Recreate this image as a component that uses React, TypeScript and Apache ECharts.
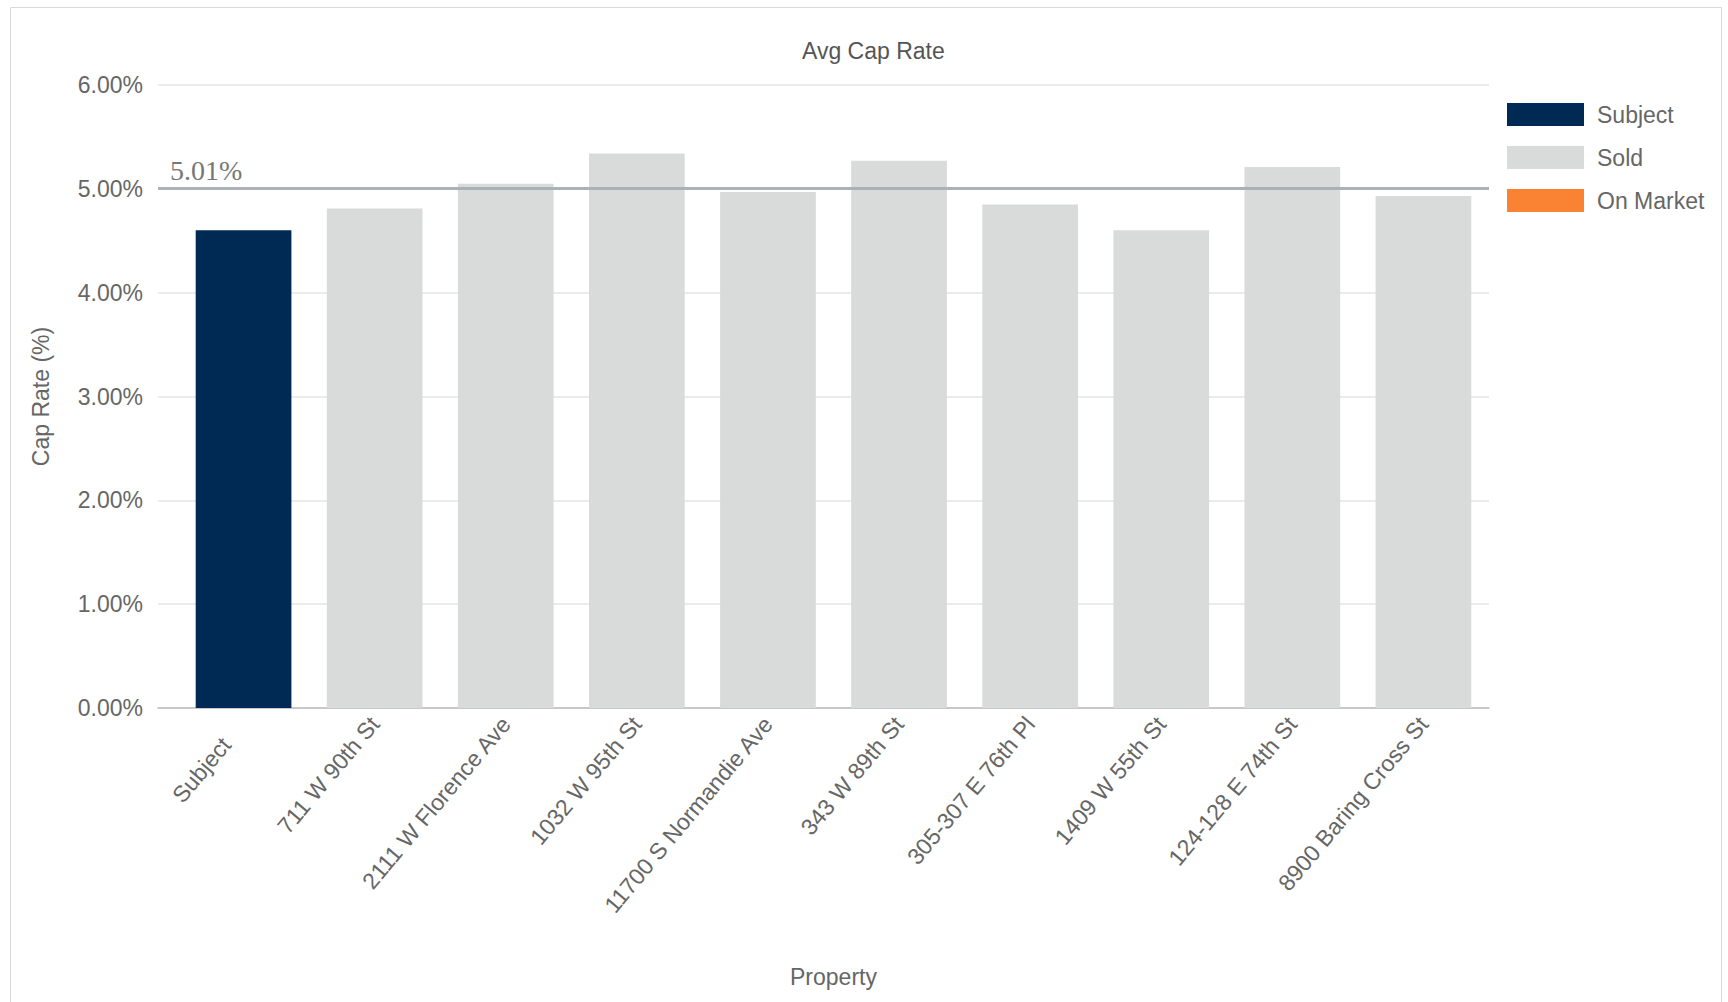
import React, { useEffect, useRef } from "react";
import * as echarts from "echarts";

// Properties along the category axis
const categories = [
  "Subject",
  "711 W 90th St",
  "2111 W Florence Ave",
  "1032 W 95th St",
  "11700 S Normandie Ave",
  "343 W 89th St",
  "305-307 E 76th Pl",
  "1409 W 55th St",
  "124-128 E 74th St",
  "8900 Baring Cross St",
];

// Cap rate (%) per property
const capRates = [4.6, 4.81, 5.05, 5.34, 4.97, 5.27, 4.85, 4.6, 5.21, 4.93];

// Status of each property (drives the colour / legend group)
const statuses = [
  "Subject",
  "Sold",
  "Sold",
  "Sold",
  "Sold",
  "Sold",
  "Sold",
  "Sold",
  "Sold",
  "Sold",
];

const statusNames = ["Subject", "Sold", "On Market"];
const statusColors = ["#002a54", "#d9dada", "#f98233"];

// Average cap rate reference line
const avgCapRate = 5.01;

// Y axis range (%)
const yMin = 0;
const yMax = 6;
const yStep = 1;

const FONT = "'Liberation Sans', Arial, sans-serif";
const TEXT = "#666666";
const FS = 23;

export default function App() {
  const ref = useRef<HTMLDivElement>(null);

  useEffect(() => {
    if (!ref.current) return;
    const chart = echarts.init(ref.current, undefined, { renderer: "svg" });

    const statusSeries = statusNames.map((name, si) => ({
      name,
      type: "bar" as const,
      xAxisIndex: 1,
      yAxisIndex: 1,
      stack: "status",
      barCategoryGap: "27%",
      itemStyle: { color: statusColors[si] },
      data: capRates.map((v, i) => (statuses[i] === name ? v : null)),
      z: 2,
    }));

    // The subject's own label sits a little further from its tick
    const labelledCategories = categories.map((c, i) =>
      statuses[i] === "Subject"
        ? { value: c, textStyle: { padding: [0, 27, 0, 0] } }
        : c
    );

    chart.setOption({
      animation: false,
      backgroundColor: "#ffffff",
      graphic: [
        {
          type: "rect",
          silent: true,
          shape: { x: 10.5, y: 7.5, width: 1711, height: 1000 },
          style: { fill: "none", stroke: "#d9d9d9", lineWidth: 1 },
        },
      ],
      title: {
        text: "Avg Cap Rate",
        left: 797,
        top: 34,
        textStyle: {
          fontFamily: FONT,
          fontSize: FS,
          fontWeight: "normal",
          color: "#555555",
        },
      },
      legend: {
        orient: "vertical",
        left: 1502,
        top: 98,
        itemWidth: 77,
        itemHeight: 23,
        itemGap: 20,
        icon: "rect",
        data: statusNames,
        textStyle: {
          fontFamily: FONT,
          fontSize: FS,
          color: TEXT,
          padding: [0, 0, 0, 8],
        },
      },
      grid: [
        { left: 158, right: 239, top: 85, bottom: 294 },
        { left: 178, right: 239, top: 85, bottom: 294 },
      ],
      xAxis: [
        {
          type: "category",
          gridIndex: 0,
          data: categories,
          axisLine: { show: true, lineStyle: { color: "#bdbdbd", width: 1.5 } },
          axisTick: { show: false },
          axisLabel: { show: false },
        },
        {
          type: "category",
          gridIndex: 1,
          data: labelledCategories,
          axisLine: { show: false },
          axisTick: { show: false },
          axisLabel: {
            interval: 0,
            rotate: 50,
            margin: 12,
            fontFamily: FONT,
            fontSize: FS,
            color: TEXT,
          },
          name: "Property",
          nameLocation: "middle",
          nameGap: 257,
          nameTextStyle: { fontFamily: FONT, fontSize: FS, color: TEXT },
        },
      ],
      yAxis: [
        {
          type: "value",
          gridIndex: 0,
          min: yMin,
          max: yMax,
          interval: yStep,
          axisLine: { show: false },
          axisTick: { show: false },
          splitLine: { lineStyle: { color: "#e5e5e5", width: 1.5 } },
          axisLabel: {
            margin: 15,
            fontFamily: FONT,
            fontSize: FS,
            color: TEXT,
            formatter: (v: number) => v.toFixed(2) + "%",
          },
          name: "Cap Rate (%)",
          nameLocation: "middle",
          nameGap: 106,
          nameTextStyle: { fontFamily: FONT, fontSize: FS, color: TEXT },
        },
        {
          type: "value",
          gridIndex: 1,
          min: yMin,
          max: yMax,
          interval: yStep,
          show: false,
          splitLine: { show: false },
        },
      ],
      series: [
        ...statusSeries,
        {
          name: "Average",
          type: "bar",
          xAxisIndex: 0,
          yAxisIndex: 0,
          data: categories.map(() => null),
          z: 5,
          markLine: {
            silent: true,
            symbol: "none",
            z: 5,
            lineStyle: { color: "#aab1b7", width: 3, type: "solid" },
            label: {
              position: "insideStartTop",
              distance: [12, 3],
              fontFamily: "'Liberation Serif', 'Times New Roman', serif",
              fontSize: 28,
              color: "#777777",
              formatter: (p: any) => Number(p.value).toFixed(2) + "%",
            },
            data: [{ yAxis: avgCapRate }],
          },
        },
      ],
    });

    return () => chart.dispose();
  }, []);

  return (
    <div
      ref={ref}
      style={{ position: "absolute", left: 0, top: 0, width: 1728, height: 1002 }}
    />
  );
}
